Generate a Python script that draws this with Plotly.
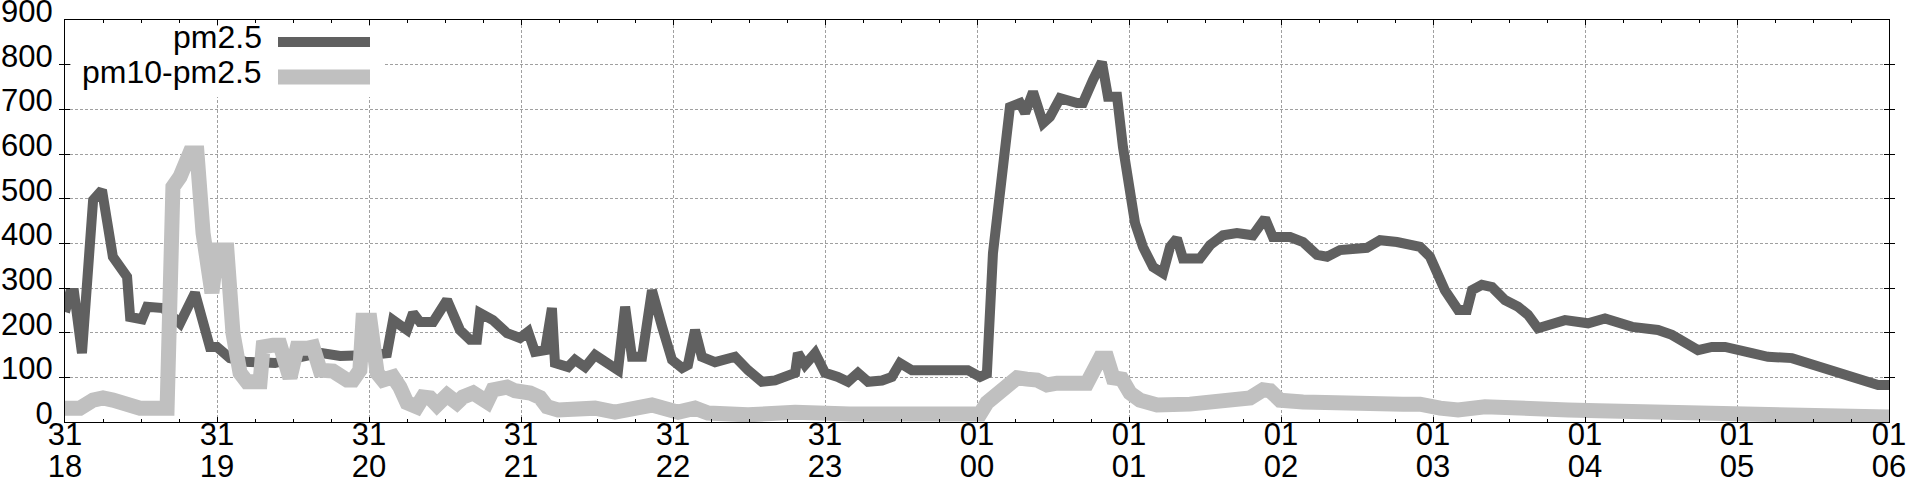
import pandas as pd
import plotly.graph_objects as go

# ---- data (minutes after 31 18:00, values) ----
START = "2019-12-31 18:00"
END = "2020-01-01 06:00"

PM25_MIN = [0, 2.0, 3.6, 6.7, 11.1, 14.6, 16.6, 18.9, 24.5, 25.7, 30.4, 32.4, 38.7, 45.4, 51.3, 57.2, 60.0,
            65.1, 71.1, 82.9, 88.8, 100.7, 108.6, 115.3, 120.4, 127.1, 129.5, 135.0, 137.4, 140.1, 145.3,
            150.8, 155.9, 159.9, 162.6, 163.8, 168.9, 174.5, 179.6, 182.8, 185.5, 189.5, 192.2, 193.4,
            198.6, 201.3, 205.3, 209.2, 213.2, 218.3, 221.1, 223.8, 227.8, 231.7, 235.7, 239.6, 243.6,
            245.9, 248.7, 251.4, 256.6, 264.5, 269.6, 275.1, 280.3, 288.2, 289.3, 292.1, 296.1, 300.0,
            305.1, 309.1, 313.0, 317.0, 322.5, 326.4, 329.6, 334.3, 344.6, 356.4, 361.2, 363.9, 366.3,
            370.3, 373.0, 377.0, 379.0, 382.1, 386.1, 388.8, 392.8, 399.5, 401.8, 405.8, 409.3, 411.7,
            415.3, 417.6, 420.4, 422.4, 425.5, 429.5, 433.4, 436.2, 438.9, 441.3, 448.0, 452.0, 457.1,
            462.6, 468.9, 473.7, 476.8, 483.6, 488.7, 494.2, 498.2, 503.3, 513.9, 519.1, 525.8, 534.9,
            538.8, 542.0, 544.7, 549.9, 553.4, 555.4, 559.3, 563.3, 568.4, 573.6, 577.5, 581.4, 585.4,
            592.1, 601.2, 607.9, 618.6, 628.8, 634.3, 639.5, 644.6, 650.1, 655.3, 665.9, 672.2, 681.7,
            688.0, 694.7, 699.9, 705.4, 710.5, 715.7, 720.4]
PM25_VAL = [246, 289, 289, 154, 497, 519, 450, 370, 325, 235, 230, 258, 255, 221, 289, 168, 168,
            143, 135, 132, 140, 155, 148, 146, 150, 154, 228, 206, 244, 224, 224,
            273, 206, 184, 184, 244, 228, 199, 188, 202, 157, 161, 255, 132,
            123, 139, 123, 150, 132, 116, 258, 146, 146, 295, 213, 139, 121,
            128, 206, 146, 134, 146, 116, 90, 93, 110, 154, 128, 154, 110,
            101, 90, 110, 90, 93, 101, 132, 116, 116, 116, 101, 108, 378,
            587, 705, 714, 692, 739, 669, 683, 725, 714, 714, 766, 806, 728,
            728, 616, 512, 445, 392, 347, 333, 392, 411, 366, 366, 396, 418,
            423, 418, 456, 414, 414, 403, 374, 370, 385, 390, 407, 403, 392,
            370, 330, 295, 251, 251, 295, 307, 302, 273, 258, 240, 210, 217,
            228, 221, 232, 213, 206, 195, 177, 161, 168, 168, 154, 146, 143,
            132, 121, 110, 99, 90, 83, 83]

COARSE_MIN = [0, 5.9, 11.1, 15.0, 18.9, 24.5, 29.6, 40.3, 42.6, 45.4, 49.3, 52.1, 54.5, 58.0, 60.0,
              63.9, 66.3, 69.1, 71.8, 77.0, 78.2, 82.1, 84.9, 88.8, 91.6, 95.5, 97.9, 100.7, 105.8,
              111.3, 113.7, 116.4, 117.6, 120.4, 123.2, 125.5, 129.5, 132.2, 135.0, 138.9, 141.3,
              144.1, 146.8, 150.8, 154.7, 157.1, 161.1, 166.6, 168.9, 174.5, 177.6, 183.6, 187.5,
              190.3, 194.6, 209.2, 217.1, 231.7, 242.0, 248.7, 253.8, 269.6, 288.2, 309.9, 329.6,
              353.3, 359.2, 361.2, 363.9, 367.9, 371.8, 375.8, 379.7, 383.7, 387.6, 391.6, 403.4,
              405.8, 408.6, 411.3, 413.7, 417.2, 420.4, 424.3, 431.1, 444.1, 452.0, 459.9, 467.8,
              472.9, 475.7, 479.6, 488.7, 528.2, 534.9, 542.8, 549.9, 560.5, 570.4, 582.3, 593.4,
              605.2, 621.7, 636.7, 661.2, 681.7, 694.7, 720.4]
COARSE_VAL = [31, 31, 49, 54, 49, 38, 31, 31, 526, 549, 602, 602, 423, 289, 385,
              385, 199, 110, 90, 90, 168, 172, 172, 99, 165, 165, 168, 116, 114,
              94, 94, 116, 228, 228, 110, 94, 101, 78, 43, 34, 56,
              54, 38, 60, 43, 56, 65, 45, 72, 78, 70, 65, 55,
              34, 27, 31, 22, 38, 22, 31, 20, 16, 22, 18, 20,
              18, 16, 18, 43, 60, 87, 99, 96, 94, 83, 87, 87,
              110, 143, 143, 99, 96, 65, 49, 38, 40, 45, 54, 54,
              72, 70, 49, 45, 40, 40, 31, 27, 34, 31, 22, 27,
              25, 22, 20, 20, 16, 11, 11]

SERIES_NAMES = ["pm2.5", "pm10-pm2.5"]
SERIES_COLORS = ["#606060", "#c0c0c0"]
SERIES_WIDTHS = [10, 15]
Y_TICKS = [0, 100, 200, 300, 400, 500, 600, 700, 800, 900]

t0 = pd.Timestamp(START)
t_pm25 = [(t0 + pd.Timedelta(seconds=round(m * 60))).strftime("%Y-%m-%d %H:%M:%S") for m in PM25_MIN]
t_coarse = [(t0 + pd.Timedelta(seconds=round(m * 60))).strftime("%Y-%m-%d %H:%M:%S") for m in COARSE_MIN]

FONT = "Liberation Sans, Arial, sans-serif"
FS_TICK = 31
FS_KEY = 32
GRID = "#a0a0a0"

fig = go.Figure()
fig.add_trace(go.Scatter(x=t_pm25, y=PM25_VAL, mode="lines", name=SERIES_NAMES[0],
                         line=dict(color=SERIES_COLORS[0], width=SERIES_WIDTHS[0]), showlegend=False))
fig.add_trace(go.Scatter(x=t_coarse, y=COARSE_VAL, mode="lines", name=SERIES_NAMES[1],
                         line=dict(color=SERIES_COLORS[1], width=SERIES_WIDTHS[1]), showlegend=False))
# empty helper trace so the hour-label axis is created
fig.add_trace(go.Scatter(x=[START, END], y=[None, None], xaxis="x2", mode="lines",
                         showlegend=False, hoverinfo="skip"))

common_x = dict(type="date", range=[START, END], dtick=3600000, tick0=START,
                tickfont=dict(family=FONT, size=FS_TICK, color="black"), automargin=False,
                ticklabeloverflow="allow")

fig.update_layout(
    width=1920, height=480,
    margin=dict(l=65, r=31, t=20, b=58),
    paper_bgcolor="white", plot_bgcolor="white",
    font=dict(family=FONT, size=FS_TICK, color="black"),
    xaxis=dict(**common_x, tickformat="%d", ticks="inside", ticklen=5, tickcolor="black",
               showline=True, linecolor="black", linewidth=1, mirror="allticks",
               showgrid=True, gridcolor=GRID, gridwidth=1, griddash="3px,2px", zeroline=False,
               minor=dict(dtick=900000, ticks="inside", ticklen=3, tickcolor="black", showgrid=False),
               ticklabelstandoff=-15),
    xaxis2=dict(**common_x, tickformat="%H", overlaying="x", anchor="y", side="bottom",
                ticks="", showline=False, showgrid=False, zeroline=False,
                ticklabelstandoff=23),
    yaxis=dict(range=[0, 900], tickvals=Y_TICKS, ticks="inside", ticklen=5, tickcolor="black",
               showline=True, linecolor="black", linewidth=1, mirror="allticks",
               showgrid=True, gridcolor=GRID, gridwidth=1, griddash="3px,2px", zeroline=False,
               tickfont=dict(family=FONT, size=FS_TICK, color="black"), automargin=False,
               ticklabelstandoff=5, ticklabelshift=-9, ticklabeloverflow="allow"),
)

# gnuplot-style key: white box, right-aligned text, sample line to the right
PW, PH = 1824.0, 402.0
fig.add_shape(type="rect", xref="x domain", yref="y domain", layer="above",
              x0=(71 - 65) / PW, x1=(385 - 65) / PW, y0=1 - (97 - 20) / PH, y1=1 - 6 / PH,
              fillcolor="white", line=dict(width=0))
key_rows = [42, 77]
for i, name in enumerate(SERIES_NAMES):
    yc = 1 - (key_rows[i] - 20) / PH
    fig.add_shape(type="line", xref="x domain", yref="y domain", layer="above",
                  x0=(278 - 65) / PW, x1=(370 - 65) / PW, y0=yc, y1=yc,
                  line=dict(color=SERIES_COLORS[i], width=SERIES_WIDTHS[i]))
    fig.add_annotation(text=name, xref="x domain", yref="y domain", x=(264 - 65) / PW,
                       y=1 - (key_rows[i] - 5 - 20) / PH, xanchor="right", yanchor="middle",
                       showarrow=False, font=dict(family=FONT, size=FS_KEY, color="black"))

fig.write_html("out.html", config={"displayModeBar": False},
               post_script="document.body.style.margin='0';document.body.style.overflow='hidden';")
